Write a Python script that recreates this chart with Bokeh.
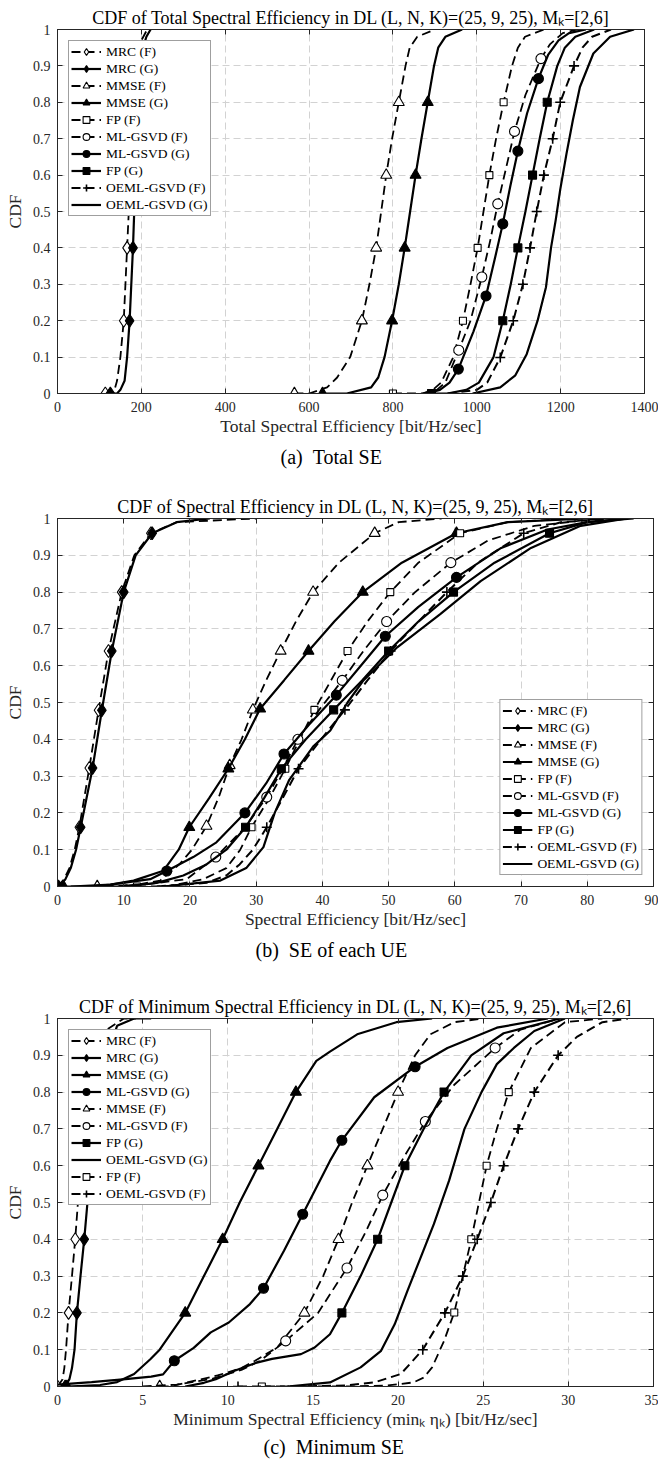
from bokeh.plotting import figure
from bokeh.models import Range1d, FixedTicker, LinearAxis, Legend, LegendItem, Title
from bokeh.layouts import column
from bokeh.embed import file_html
from bokeh.resources import INLINE

FONT = "Liberation Serif"
INK = "#262626"

Y_TICKS = [0, 0.1, 0.2, 0.3, 0.4, 0.5, 0.6, 0.7, 0.8, 0.9, 1]
Y_TICK_LABELS = ["0", "0.1", "0.2", "0.3", "0.4", "0.5", "0.6", "0.7", "0.8", "0.9", "1"]

# ---------------- (a) Total SE ----------------
A_XTICKS = [0, 200, 400, 600, 800, 1000, 1200, 1400]
A_MRC_F_X = [114, 132, 136, 142, 150, 158, 166, 170, 172, 176, 180, 186, 192, 200, 214]
A_MRC_F_Y = [0, 0, 0.01, 0.035, 0.1, 0.2, 0.4, 0.5, 0.6, 0.7, 0.8, 0.9, 0.95, 0.97, 1]
A_MRC_F_MX = [114, 158, 166, 172, 180]
A_MRC_F_MY = [0, 0.2, 0.4, 0.6, 0.8]
A_MRC_G_X = [126, 142, 150, 160, 166, 172, 180, 183, 186, 189, 192, 198, 204, 212, 222]
A_MRC_G_Y = [0, 0, 0.01, 0.035, 0.1, 0.2, 0.4, 0.5, 0.6, 0.7, 0.8, 0.9, 0.95, 0.98, 1]
A_MRC_G_MX = [126, 172, 180, 186, 192]
A_MRC_G_MY = [0, 0.2, 0.4, 0.6, 0.8]
A_MMSE_F_X = [565, 600, 643, 667, 698, 726, 744, 760, 772, 784, 798, 814, 830, 840, 858, 900]
A_MMSE_F_Y = [0, 0, 0.017, 0.044, 0.1, 0.2, 0.3, 0.4, 0.5, 0.6, 0.7, 0.8, 0.9, 0.95, 0.98, 1]
A_MMSE_F_MX = [565, 726, 760, 784, 814]
A_MMSE_F_MY = [0, 0.2, 0.4, 0.6, 0.8]
A_MMSE_G_X = [632, 690, 748, 765, 780, 798, 814, 828, 841, 854, 868, 883, 898, 908, 925, 965]
A_MMSE_G_Y = [0, 0, 0.017, 0.044, 0.1, 0.2, 0.3, 0.4, 0.5, 0.6, 0.7, 0.8, 0.9, 0.95, 0.98, 1]
A_MMSE_G_MX = [632, 798, 828, 854, 883]
A_MMSE_G_MY = [0, 0.2, 0.4, 0.6, 0.8]
A_FP_F_X = [800, 870, 895, 915, 944, 967, 985, 1002, 1016, 1030, 1046, 1064, 1084, 1098, 1115, 1160]
A_FP_F_Y = [0, 0, 0.01, 0.03, 0.1, 0.2, 0.3, 0.4, 0.5, 0.6, 0.7, 0.8, 0.9, 0.95, 0.98, 1]
A_FP_F_MX = [800, 967, 1002, 1030, 1064]
A_FP_F_MY = [0, 0.2, 0.4, 0.6, 0.8]
A_ML_F_X = [870, 905, 925, 957, 985, 1012, 1032, 1050, 1070, 1090, 1116, 1153, 1175, 1205, 1240]
A_ML_F_Y = [0, 0.01, 0.03, 0.119, 0.2, 0.32, 0.42, 0.521, 0.62, 0.72, 0.82, 0.92, 0.96, 0.99, 1]
A_ML_F_MX = [957, 1012, 1050, 1090, 1153]
A_ML_F_MY = [0.119, 0.32, 0.521, 0.72, 0.92]
A_ML_G_X = [880, 912, 935, 956, 992, 1022, 1043, 1062, 1080, 1098, 1120, 1147, 1170, 1195, 1220, 1260]
A_ML_G_Y = [0, 0.01, 0.03, 0.067, 0.17, 0.268, 0.37, 0.466, 0.57, 0.666, 0.77, 0.865, 0.93, 0.97, 0.99, 1]
A_ML_G_MX = [956, 1022, 1062, 1098, 1147]
A_ML_G_MY = [0.067, 0.268, 0.466, 0.666, 0.865]
A_FP_G_X = [892, 930, 975, 1005, 1040, 1062, 1081, 1098, 1116, 1133, 1150, 1168, 1192, 1210, 1235, 1280]
A_FP_G_Y = [0, 0, 0.01, 0.03, 0.1, 0.2, 0.3, 0.4, 0.5, 0.6, 0.7, 0.8, 0.9, 0.95, 0.98, 1]
A_FP_G_MX = [892, 1062, 1098, 1133, 1168]
A_FP_G_MY = [0, 0.2, 0.4, 0.6, 0.8]
A_OEML_F_X = [930, 1000, 1025, 1056, 1087, 1110, 1127, 1143, 1160, 1181, 1199, 1232, 1252, 1275, 1320]
A_OEML_F_Y = [0, 0.01, 0.03, 0.099, 0.2, 0.3, 0.4, 0.5, 0.6, 0.7, 0.8, 0.9, 0.95, 0.98, 1]
A_OEML_F_MX = [1056, 1087, 1110, 1127, 1143, 1160, 1181, 1199, 1232]
A_OEML_F_MY = [0.099, 0.2, 0.3, 0.4, 0.5, 0.6, 0.7, 0.8, 0.9]
A_OEML_G_X = [990, 1056, 1092, 1119, 1145, 1165, 1177, 1188, 1199, 1214, 1229, 1246, 1278, 1318, 1375]
A_OEML_G_Y = [0, 0.017, 0.05, 0.108, 0.2, 0.292, 0.4, 0.475, 0.56, 0.659, 0.75, 0.842, 0.934, 0.98, 1]

# ---------------- (b) SE of each UE ----------------
B_XTICKS = [0, 10, 20, 30, 40, 50, 60, 70, 80, 90]
B_MRC_F_X = [0, 1.0, 1.8, 2.6, 3.3, 4.8, 6.2, 7.7, 9.7, 11.6, 14.1, 18, 30]
B_MRC_F_Y = [0, 0.02, 0.05, 0.1, 0.161, 0.322, 0.479, 0.64, 0.8, 0.9, 0.96, 0.99, 1]
B_MRC_F_MX = [0, 3.3, 4.8, 6.2, 7.7, 9.7, 14.1]
B_MRC_F_MY = [0, 0.161, 0.322, 0.479, 0.64, 0.8, 0.96]
B_MRC_G_X = [0.15, 1.2, 2.0, 2.8, 3.5, 5.3, 6.7, 8.2, 10.0, 11.8, 14.3, 18, 23]
B_MRC_G_Y = [0, 0.02, 0.05, 0.1, 0.161, 0.322, 0.479, 0.64, 0.8, 0.9, 0.96, 0.99, 1]
B_MRC_G_MX = [0.15, 3.5, 5.3, 6.7, 8.2, 10.0, 14.3]
B_MRC_G_MY = [0, 0.161, 0.322, 0.479, 0.64, 0.8, 0.96]
B_MMSE_F_X = [6, 9, 12, 15.5, 18.5, 20.3, 22.5, 24.4, 26.0, 27.8, 29.5, 31.5, 33.7, 36, 38.6, 42.5, 47.9, 51.5, 58]
B_MMSE_F_Y = [0, 0, 0.005, 0.016, 0.062, 0.1, 0.164, 0.245, 0.329, 0.4, 0.48, 0.56, 0.64, 0.72, 0.8, 0.88, 0.96, 0.99, 1]
B_MMSE_F_MX = [6, 22.5, 26.0, 29.5, 33.7, 38.6, 47.9]
B_MMSE_F_MY = [0, 0.164, 0.329, 0.48, 0.64, 0.8, 0.96]
B_MMSE_G_X = [0.9, 5, 8, 11.5, 16, 18.3, 19.9, 22.9, 25.8, 28.3, 30.6, 34.2, 37.9, 41.8, 46.1, 52, 60.25, 68, 80]
B_MMSE_G_Y = [0, 0, 0.005, 0.016, 0.043, 0.1, 0.161, 0.24, 0.32, 0.4, 0.483, 0.56, 0.64, 0.72, 0.8, 0.88, 0.96, 0.99, 1]
B_MMSE_G_MX = [0.9, 19.9, 25.8, 30.6, 37.9, 46.1, 60.25]
B_MMSE_G_MY = [0, 0.161, 0.32, 0.483, 0.64, 0.8, 0.96]
B_FP_F_X = [12.0, 16, 18, 22, 25.5, 27.6, 29.3, 32.0, 34.4, 36.6, 38.8, 41.3, 43.8, 46.8, 50.25, 54.5, 60.8, 68, 78]
B_FP_F_Y = [0, 0, 0.005, 0.02, 0.05, 0.1, 0.161, 0.24, 0.32, 0.4, 0.48, 0.56, 0.64, 0.72, 0.8, 0.88, 0.96, 0.99, 1]
B_FP_F_MX = [12.0, 29.3, 34.4, 38.8, 43.8, 50.25, 60.8]
B_FP_F_MY = [0, 0.161, 0.32, 0.48, 0.64, 0.8, 0.96]
B_ML_F_X = [5, 13, 19.5, 23.9, 28.3, 31.6, 34.0, 36.3, 39.5, 43.0, 46.2, 49.7, 54.0, 59.4, 65, 72, 82]
B_ML_F_Y = [0, 0.005, 0.02, 0.08, 0.16, 0.243, 0.32, 0.40, 0.48, 0.56, 0.64, 0.72, 0.8, 0.88, 0.94, 0.98, 1]
B_ML_F_MX = [23.9, 31.6, 36.3, 43.0, 49.7, 59.4]
B_ML_F_MY = [0.08, 0.243, 0.40, 0.56, 0.72, 0.88]
B_ML_G_X = [2, 8, 14, 16.5, 20.5, 24, 28.3, 31.5, 34.2, 38.0, 42.1, 45.8, 49.5, 54.5, 60.25, 67, 74, 80, 87]
B_ML_G_Y = [0, 0.005, 0.02, 0.042, 0.08, 0.12, 0.2, 0.28, 0.36, 0.44, 0.52, 0.6, 0.68, 0.76, 0.84, 0.92, 0.97, 0.99, 1]
B_ML_G_MX = [16.5, 28.3, 34.2, 42.1, 49.5, 60.25]
B_ML_G_MY = [0.042, 0.2, 0.36, 0.52, 0.68, 0.84]
B_FP_G_X = [10, 15, 19, 22.5, 25.5, 28.4, 31.2, 33.8, 37.5, 41.7, 46, 50.0, 54.5, 59.8, 66, 74.3, 80, 86]
B_FP_G_Y = [0, 0.01, 0.03, 0.06, 0.1, 0.161, 0.24, 0.32, 0.40, 0.48, 0.56, 0.64, 0.72, 0.8, 0.88, 0.96, 0.99, 1]
B_FP_G_MX = [28.4, 33.8, 41.7, 50.0, 59.8, 74.3]
B_FP_G_MY = [0.161, 0.32, 0.48, 0.64, 0.8, 0.96]
B_OEML_F_X = [15, 22.5, 25.5, 27.5, 29.5, 31.6, 34.0, 36.4, 39.8, 43.4, 46.8, 50.3, 54.5, 58.8, 63.5, 70.4, 76, 84]
B_OEML_F_Y = [0, 0.01, 0.03, 0.06, 0.1, 0.161, 0.24, 0.32, 0.40, 0.48, 0.56, 0.64, 0.72, 0.8, 0.88, 0.96, 0.99, 1]
B_OEML_F_MX = [31.6, 36.4, 43.4, 50.3, 58.8, 70.4]
B_OEML_F_MY = [0.161, 0.32, 0.48, 0.64, 0.8, 0.96]
B_OEML_G_X = [16, 24.6, 28.5, 31.1, 32.8, 35.0, 38.6, 41.2, 43.8, 46.2, 51.3, 57.8, 63.9, 71.5, 79, 86]
B_OEML_G_Y = [0, 0.016, 0.05, 0.107, 0.2, 0.29, 0.38, 0.424, 0.5, 0.56, 0.65, 0.74, 0.83, 0.92, 0.98, 1]

# ---------------- (c) Minimum SE ----------------
C_XTICKS = [0, 5, 10, 15, 20, 25, 30, 35]
C_MRC_F_X = [0, 0.3, 0.4, 0.5, 0.65, 0.85, 1.04, 1.2, 1.4, 1.6, 1.85, 2.2, 2.9, 3.9, 4.6]
C_MRC_F_Y = [0, 0.02, 0.05, 0.1, 0.2, 0.3, 0.4, 0.5, 0.6, 0.7, 0.8, 0.9, 0.97, 1, 1]
C_MRC_F_MX = [0, 0.65, 1.04, 1.4, 1.85]
C_MRC_F_MY = [0, 0.2, 0.4, 0.6, 0.8]
C_MRC_G_X = [0.45, 0.7, 0.85, 1.0, 1.14, 1.35, 1.57, 1.76, 1.95, 2.2, 2.5, 2.9, 3.5, 4.5, 5.5]
C_MRC_G_Y = [0, 0.02, 0.05, 0.1, 0.2, 0.3, 0.4, 0.5, 0.6, 0.7, 0.8, 0.9, 0.98, 1, 1]
C_MRC_G_MX = [0.45, 1.14, 1.57, 1.95, 2.5]
C_MRC_G_MY = [0, 0.2, 0.4, 0.6, 0.8]
C_MMSE_G_X = [0.55, 2.5, 3.5, 4.5, 5.45, 6.0, 7.5, 8.6, 9.7, 10.7, 11.8, 12.9, 14.0, 15.2, 16.0, 17.6, 19.9, 22]
C_MMSE_G_Y = [0, 0.004, 0.012, 0.034, 0.074, 0.1, 0.2, 0.3, 0.4, 0.5, 0.6, 0.7, 0.8, 0.885, 0.91, 0.957, 0.99, 1]
C_MMSE_G_MX = [0.55, 7.5, 9.7, 11.8, 14.0]
C_MMSE_G_MY = [0, 0.2, 0.4, 0.6, 0.8]
C_ML_G_X = [0, 2.0, 4.0, 5.5, 6.2, 6.86, 8.0, 9.0, 10.06, 11.3, 12.1, 13.3, 14.4, 16.0, 16.7, 18.6, 21.0, 22.9, 25.8, 28.8]
C_ML_G_Y = [0.005, 0.012, 0.02, 0.027, 0.033, 0.07, 0.105, 0.147, 0.174, 0.224, 0.267, 0.369, 0.468, 0.613, 0.669, 0.786, 0.869, 0.92, 0.975, 1]
C_ML_G_MX = [6.86, 12.1, 14.4, 16.7, 21.0]
C_ML_G_MY = [0.07, 0.267, 0.468, 0.669, 0.869]
C_MMSE_F_X = [6.0, 6.6, 7.5, 9.4, 10.8, 11.6, 12.9, 14.5, 15.6, 16.5, 17.3, 18.2, 19.1, 20.0, 21.0, 21.9, 23.3, 25]
C_MMSE_F_Y = [0, 0, 0.01, 0.03, 0.05, 0.07, 0.106, 0.2, 0.3, 0.4, 0.5, 0.6, 0.7, 0.8, 0.9, 0.957, 0.99, 1]
C_MMSE_F_MX = [6.0, 14.5, 16.5, 18.2, 20.0]
C_MMSE_F_MY = [0, 0.2, 0.4, 0.6, 0.8]
C_ML_F_X = [5, 7, 9, 10.8, 11.9, 13.4, 15.3, 17.0, 18.1, 19.1, 20.3, 21.6, 23.3, 25.7, 27.2, 29.5]
C_ML_F_Y = [0, 0.005, 0.02, 0.045, 0.07, 0.124, 0.2, 0.322, 0.42, 0.52, 0.62, 0.72, 0.82, 0.92, 0.97, 1]
C_ML_F_MX = [13.4, 17.0, 19.1, 21.6, 25.7]
C_ML_F_MY = [0.124, 0.322, 0.52, 0.72, 0.92]
C_FP_G_X = [7.5, 8.6, 9.3, 10.4, 11.7, 12.6, 14.3, 15.1, 16.0, 16.7, 17.8, 18.8, 19.6, 20.4, 21.5, 22.7, 24.3, 26.2, 29.5]
C_FP_G_Y = [0, 0.01, 0.02, 0.043, 0.065, 0.075, 0.088, 0.106, 0.142, 0.2, 0.3, 0.4, 0.5, 0.6, 0.7, 0.8, 0.9, 0.96, 1]
C_FP_G_MX = [16.7, 18.8, 20.4, 22.7]
C_FP_G_MY = [0.2, 0.4, 0.6, 0.8]
C_OEML_G_X = [13.5, 16.0, 17.8, 19.0, 19.8, 20.55, 21.33, 22.1, 23.0, 23.9, 24.9, 25.8, 26.8, 28.0, 29.8]
C_OEML_G_Y = [0, 0.011, 0.052, 0.097, 0.169, 0.26, 0.351, 0.441, 0.56, 0.7, 0.8, 0.876, 0.92, 0.966, 1]
C_FP_F_X = [12.0, 17, 19.4, 20.9, 21.5, 22.0, 22.7, 23.3, 23.8, 24.3, 24.75, 25.2, 25.8, 26.5, 27.8, 29.8, 32]
C_FP_F_Y = [0, 0, 0.003, 0.011, 0.024, 0.052, 0.124, 0.201, 0.3, 0.4, 0.5, 0.6, 0.7, 0.8, 0.92, 0.99, 1]
C_FP_F_MX = [12.0, 23.3, 24.3, 25.2, 26.5]
C_FP_F_MY = [0, 0.201, 0.4, 0.6, 0.8]
C_OEML_F_X = [10.6, 14, 17.0, 18.6, 20.16, 21.45, 22.75, 23.8, 24.65, 25.45, 26.2, 27.05, 28.0, 29.4, 30.5, 32.0, 33.5]
C_OEML_F_Y = [0, 0, 0.003, 0.011, 0.034, 0.1, 0.2, 0.3, 0.4, 0.5, 0.6, 0.7, 0.8, 0.9, 0.95, 0.99, 1]
C_OEML_F_MX = [10.6, 21.45, 22.75, 23.8, 24.65, 25.45, 26.2, 27.05, 28.0, 29.4]
C_OEML_F_MY = [0, 0.1, 0.2, 0.3, 0.4, 0.5, 0.6, 0.7, 0.8, 0.9]

DASH = "9 5"
STYLE = {
    "MRC (F)": dict(dash=DASH, lw=1.8, marker="diamond", fill="white", size=13),
    "MRC (G)": dict(dash="solid", lw=2.2, marker="diamond", fill="black", size=13),
    "MMSE (F)": dict(dash=DASH, lw=1.8, marker="triangle", fill="white", size=11),
    "MMSE (G)": dict(dash="solid", lw=2.2, marker="triangle", fill="black", size=11),
    "FP (F)": dict(dash=DASH, lw=1.8, marker="square", fill="white", size=7),
    "FP (G)": dict(dash="solid", lw=2.2, marker="square", fill="black", size=8),
    "ML-GSVD (F)": dict(dash=DASH, lw=1.8, marker="circle", fill="white", size=10),
    "ML-GSVD (G)": dict(dash="solid", lw=2.2, marker="circle", fill="black", size=10),
    "OEML-GSVD (F)": dict(dash=DASH, lw=2.0, marker="cross", fill="black", size=10),
    "OEML-GSVD (G)": dict(dash="solid", lw=2.2, marker=None, fill=None, size=0),
}


def tick_only_axis(ticks):
    return LinearAxis(ticker=FixedTicker(ticks=ticks), major_tick_in=5, major_tick_out=0,
                      minor_tick_line_color=None, major_label_text_color=None,
                      major_label_text_font_size="1px", major_label_standoff=0,
                      axis_line_color=INK, major_tick_line_color=INK)


def make_fig(title, xlabel, xmax, xticks, caption, frame_w, border_r, frame_h,
             border_t, border_b, cap_standoff, cap_left):
    p = figure(frame_width=frame_w, frame_height=frame_h,
               x_range=Range1d(0, xmax), y_range=Range1d(0, 1),
               output_backend="svg", toolbar_location=None,
               min_border_left=57, min_border_right=border_r,
               min_border_top=border_t, min_border_bottom=border_b,
               title=title)
    p.title.text_font = FONT
    p.title.text_font_size = "18px"
    p.title.text_font_style = "normal"
    p.title.text_color = "black"
    p.title.align = "center"
    p.title.standoff = 3
    p.xaxis.ticker = FixedTicker(ticks=xticks)
    p.yaxis.ticker = FixedTicker(ticks=Y_TICKS)
    p.yaxis.major_label_overrides = dict(zip(Y_TICKS, Y_TICK_LABELS))
    p.xgrid.ticker = FixedTicker(ticks=xticks)
    p.ygrid.ticker = FixedTicker(ticks=Y_TICKS)
    p.grid.grid_line_color = "#d2d2d2"
    p.grid.grid_line_dash = "7 4"
    p.grid.grid_line_width = 1
    p.axis.major_tick_in = 5
    p.axis.major_tick_out = 0
    p.axis.minor_tick_line_color = None
    p.axis.axis_line_color = INK
    p.axis.major_tick_line_color = INK
    p.axis.major_label_text_font = FONT
    p.axis.major_label_text_font_size = "14px"
    p.axis.major_label_text_color = INK
    p.axis.axis_label_text_font = FONT
    p.axis.axis_label_text_font_size = "17.5px"
    p.axis.axis_label_text_font_style = "normal"
    p.axis.axis_label_text_color = INK
    p.xaxis.axis_label = xlabel
    p.yaxis.axis_label = "CDF"
    p.xaxis.major_label_standoff = 8
    p.yaxis.major_label_standoff = 7
    p.xaxis.axis_label_standoff = 1
    p.yaxis.axis_label_standoff = 5
    p.outline_line_color = INK
    p.add_layout(tick_only_axis(Y_TICKS), "right")
    p.add_layout(tick_only_axis(xticks), "above")
    cap = Title(text=caption, align="left", offset=cap_left, text_font=FONT,
                text_font_size="20px", text_font_style="normal", text_color="black",
                standoff=cap_standoff)
    p.add_layout(cap, "below")
    return p


def add_series(p, name, xs, ys, mx=None, my=None):
    st = STYLE[name]
    rends = [p.line(xs, ys, line_color="black", line_width=st["lw"], line_dash=st["dash"])]
    if st["marker"] is not None:
        lw = 1.6 if st["marker"] == "cross" else 1.1
        rends.append(p.scatter(mx, my, marker=st["marker"], size=st["size"],
                               fill_color=st["fill"], line_color="black", line_width=lw))
    return LegendItem(label=name, renderers=rends)


def add_legend(p, items, location):
    leg = Legend(items=items, location=location, margin=11, padding=2, spacing=0,
                 glyph_height=17, glyph_width=30, label_height=17, label_standoff=5,
                 label_text_font=FONT, label_text_font_size="13.5px", label_text_color="black",
                 border_line_color="#404040", border_line_width=1,
                 background_fill_color="white", background_fill_alpha=1)
    p.add_layout(leg)


TITLE_TAIL = " in DL (L, N, K)=(25, 9, 25), M\u2096=[2,6]"

# (a)
pa = make_fig("CDF of Total Spectral Efficiency" + TITLE_TAIL,
              "Total Spectral Efficiency [bit/Hz/sec]", 1400, A_XTICKS,
              "(a)\u00a0\u00a0Total SE", 587, 14, 364, 29, 97, 10, 223)
items_a = [
    add_series(pa, "MRC (F)", A_MRC_F_X, A_MRC_F_Y, A_MRC_F_MX, A_MRC_F_MY),
    add_series(pa, "MRC (G)", A_MRC_G_X, A_MRC_G_Y, A_MRC_G_MX, A_MRC_G_MY),
    add_series(pa, "MMSE (F)", A_MMSE_F_X, A_MMSE_F_Y, A_MMSE_F_MX, A_MMSE_F_MY),
    add_series(pa, "MMSE (G)", A_MMSE_G_X, A_MMSE_G_Y, A_MMSE_G_MX, A_MMSE_G_MY),
    add_series(pa, "FP (F)", A_FP_F_X, A_FP_F_Y, A_FP_F_MX, A_FP_F_MY),
    add_series(pa, "ML-GSVD (F)", A_ML_F_X, A_ML_F_Y, A_ML_F_MX, A_ML_F_MY),
    add_series(pa, "ML-GSVD (G)", A_ML_G_X, A_ML_G_Y, A_ML_G_MX, A_ML_G_MY),
    add_series(pa, "FP (G)", A_FP_G_X, A_FP_G_Y, A_FP_G_MX, A_FP_G_MY),
    add_series(pa, "OEML-GSVD (F)", A_OEML_F_X, A_OEML_F_Y, A_OEML_F_MX, A_OEML_F_MY),
    add_series(pa, "OEML-GSVD (G)", A_OEML_G_X, A_OEML_G_Y),
]
add_legend(pa, items_a, "top_left")

# (b)
pb = make_fig("CDF of Spectral Efficiency" + TITLE_TAIL,
              "Spectral Efficiency [bit/Hz/sec]", 90, B_XTICKS,
              "(b)\u00a0\u00a0SE of each UE", 596, 5, 368, 28, 104, 11, 198)
items_b = [
    add_series(pb, "MRC (F)", B_MRC_F_X, B_MRC_F_Y, B_MRC_F_MX, B_MRC_F_MY),
    add_series(pb, "MRC (G)", B_MRC_G_X, B_MRC_G_Y, B_MRC_G_MX, B_MRC_G_MY),
    add_series(pb, "MMSE (F)", B_MMSE_F_X, B_MMSE_F_Y, B_MMSE_F_MX, B_MMSE_F_MY),
    add_series(pb, "MMSE (G)", B_MMSE_G_X, B_MMSE_G_Y, B_MMSE_G_MX, B_MMSE_G_MY),
    add_series(pb, "FP (F)", B_FP_F_X, B_FP_F_Y, B_FP_F_MX, B_FP_F_MY),
    add_series(pb, "ML-GSVD (F)", B_ML_F_X, B_ML_F_Y, B_ML_F_MX, B_ML_F_MY),
    add_series(pb, "ML-GSVD (G)", B_ML_G_X, B_ML_G_Y, B_ML_G_MX, B_ML_G_MY),
    add_series(pb, "FP (G)", B_FP_G_X, B_FP_G_Y, B_FP_G_MX, B_FP_G_MY),
    add_series(pb, "OEML-GSVD (F)", B_OEML_F_X, B_OEML_F_Y, B_OEML_F_MX, B_OEML_F_MY),
    add_series(pb, "OEML-GSVD (G)", B_OEML_G_X, B_OEML_G_Y),
]
add_legend(pb, items_b, "bottom_right")

# (c)
pc = make_fig("CDF of Minimum Spectral Efficiency" + TITLE_TAIL,
              "Minimum Spectral Efficiency (min\u2096 \u03b7\u2096) [bit/Hz/sec]", 35, C_XTICKS,
              "(c)\u00a0\u00a0Minimum SE", 596, 5, 368, 28, 79, 4, 206)
items_c = [
    add_series(pc, "MRC (F)", C_MRC_F_X, C_MRC_F_Y, C_MRC_F_MX, C_MRC_F_MY),
    add_series(pc, "MRC (G)", C_MRC_G_X, C_MRC_G_Y, C_MRC_G_MX, C_MRC_G_MY),
    add_series(pc, "MMSE (G)", C_MMSE_G_X, C_MMSE_G_Y, C_MMSE_G_MX, C_MMSE_G_MY),
    add_series(pc, "ML-GSVD (G)", C_ML_G_X, C_ML_G_Y, C_ML_G_MX, C_ML_G_MY),
    add_series(pc, "MMSE (F)", C_MMSE_F_X, C_MMSE_F_Y, C_MMSE_F_MX, C_MMSE_F_MY),
    add_series(pc, "ML-GSVD (F)", C_ML_F_X, C_ML_F_Y, C_ML_F_MX, C_ML_F_MY),
    add_series(pc, "FP (G)", C_FP_G_X, C_FP_G_Y, C_FP_G_MX, C_FP_G_MY),
    add_series(pc, "OEML-GSVD (G)", C_OEML_G_X, C_OEML_G_Y),
    add_series(pc, "FP (F)", C_FP_F_X, C_FP_F_Y, C_FP_F_MX, C_FP_F_MY),
    add_series(pc, "OEML-GSVD (F)", C_OEML_F_X, C_OEML_F_Y, C_OEML_F_MX, C_OEML_F_MY),
]
add_legend(pc, items_c, "top_left")

layout = column(pa, pb, pc, spacing=0)
open("out.html", "w").write(file_html(layout, INLINE))
